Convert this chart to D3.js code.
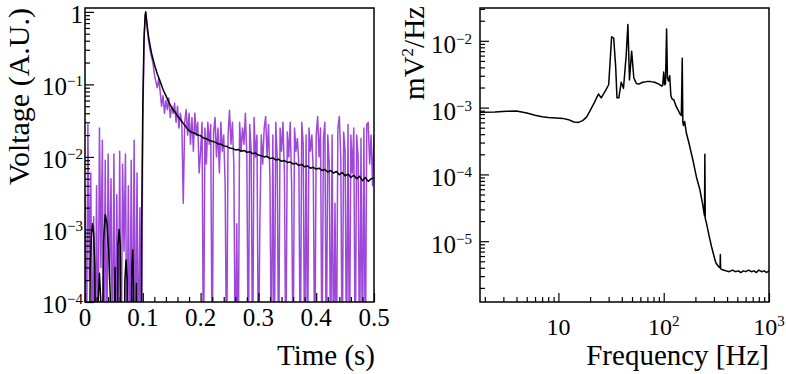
<!DOCTYPE html>
<html>
<head>
<meta charset="utf-8">
<script src="https://cdn.jsdelivr.net/npm/d3@7"></script>
<style>
  body { margin: 0; background: #fff; }
  svg text { font-family: "Liberation Serif", "DejaVu Serif", serif; fill: #000; }
</style>
</head>
<body>
<div id="chart"></div>
<script>

// ---- left panel: pulse (purple = single trace, black = average), sampled every 2.5 ms
var pulseStep = 0.0025;
var pulseTrace = [
    0.003, 1e-5, 0.028, 2e-4, 0.006, 1e-5, 0.0015, 1e-5, 0.004, 1e-5,
    0.025, 3e-4, 0.017, 1e-5, 0.009, 1e-5, 0.011, 2e-4, 0.005, 1e-5,
    0.011, 1e-5, 0.003, 1e-5, 0.012, 1e-5, 0.008, 5e-4, 0.011, 1e-5,
    0.004, 1e-5, 0.009, 1e-5, 0.017, 1e-5, 0.006, 1e-5, 0.002, 1e-5,
    0.03, 0.5, 0.98, 0.6, 0.4, 0.3, 0.24, 0.2, 0.14, 0.11,
    0.09, 0.12, 0.08, 0.05, 0.07, 0.04, 0.06, 0.045, 0.065, 0.035,
    0.05, 0.04, 0.055, 0.03, 0.05, 0.025, 0.04, 0.03, 0.0023, 0.03,
    0.045, 0.02, 0.04, 0.015, 0.035, 0.012, 0.04, 0.02, 0.03, 0.006,
    0.012, 0.03, 1e-5, 0.025, 0.008, 0.03, 0.015, 0.028, 1e-5, 0.022,
    0.035, 0.01, 0.025, 0.006, 0.03, 0.012, 0.02, 0.004, 1e-5, 0.02,
    0.044, 0.015, 0.03, 0.008, 1e-5, 0.0012, 1e-5, 0.03, 0.012, 0.025,
    0.015, 0.04, 0.01, 1e-5, 0.028, 0.012, 1e-5, 0.035, 0.01, 0.02,
    1e-5, 0.0012, 0.02, 0.008, 0.025, 0.036, 0.01, 0.028, 0.005, 1e-5,
    0.02, 1e-5, 0.03, 0.01, 1e-5, 0.025, 0.012, 0.03, 0.006, 1e-5,
    0.022, 0.01, 0.03, 0.004, 1e-5, 0.025, 0.012, 0.018, 0.008, 1e-5,
    0.03, 0.015, 1e-5, 0.02, 1e-5, 0.025, 0.012, 0.02, 0.006, 1e-5,
    0.02, 0.036, 0.01, 0.025, 1e-5, 0.018, 0.03, 1e-5, 0.02, 0.008,
    1e-5, 0.02, 1e-5, 0.0023, 1e-5, 0.025, 0.036, 0.01, 1e-5, 0.022,
    0.012, 1e-5, 0.028, 1e-5, 0.02, 0.006, 0.025, 1e-5, 0.02, 0.01,
    1e-5, 0.018, 1e-5, 0.025, 1e-5, 0.028, 0.03, 0.008, 0.02, 0.004,
    0.02
];

var avgTime = [
    0, 0.007, 0.009, 0.011, 0.013, 0.015, 0.017, 0.019, 0.021, 0.022,
    0.025, 0.028, 0.029, 0.03, 0.032, 0.035, 0.038, 0.041, 0.044, 0.046,
    0.049, 0.052, 0.054, 0.055, 0.057, 0.059, 0.061, 0.063, 0.067, 0.069,
    0.071, 0.073, 0.075, 0.079, 0.081, 0.0825, 0.084, 0.086, 0.087, 0.089,
    0.091, 0.0975, 0.098, 0.1, 0.102, 0.104, 0.105, 0.106, 0.108, 0.11,
    0.113, 0.116, 0.12, 0.125, 0.13, 0.135, 0.14, 0.145, 0.15, 0.16,
    0.17, 0.18, 0.185, 0.19, 0.195, 0.2, 0.205, 0.21, 0.215, 0.22,
    0.225, 0.23, 0.235, 0.24, 0.245, 0.25, 0.255, 0.26, 0.265, 0.27,
    0.275, 0.28, 0.285, 0.29, 0.295, 0.3, 0.305, 0.31, 0.315, 0.32,
    0.325, 0.33, 0.335, 0.34, 0.345, 0.35, 0.355, 0.36, 0.365, 0.37,
    0.375, 0.38, 0.385, 0.39, 0.395, 0.4, 0.405, 0.41, 0.415, 0.42,
    0.425, 0.43, 0.435, 0.44, 0.445, 0.45, 0.455, 0.46, 0.465, 0.47,
    0.475, 0.48, 0.485, 0.49, 0.495, 0.5
];
var avgVolt = [
    1e-6, 1e-6, 3e-4, 8e-4, 1.2e-3, 9e-4, 3e-4, 1e-6, 1e-6, 8e-5,
    2.5e-4, 8e-5, 1e-6, 1e-5, 7e-4, 1.6e-3, 1.2e-3, 5e-4, 1e-4, 1e-6,
    1e-6, 3e-4, 1e-6, 1e-6, 6e-4, 1e-3, 6e-4, 1e-6, 1e-6, 2e-4,
    3.8e-4, 2e-4, 1e-6, 1e-6, 3e-4, 5.2e-4, 2e-4, 1e-6, 1e-6, 1.8e-4,
    1e-6, 1e-6, 1e-3, 0.05, 0.4, 0.9, 1.0, 0.85, 0.6, 0.45,
    0.33, 0.25, 0.19, 0.14, 0.11, 0.085, 0.07, 0.057, 0.048, 0.037,
    0.029, 0.023, 0.0218, 0.0212, 0.02, 0.0196, 0.0182, 0.0178, 0.017, 0.0164,
    0.016, 0.0152, 0.015, 0.0142, 0.014, 0.0133, 0.0131, 0.0125, 0.0127, 0.012,
    0.0123, 0.0116, 0.0118, 0.0111, 0.0113, 0.0106, 0.0104, 0.01, 0.0102, 0.0095,
    0.0097, 0.0091, 0.0093, 0.0087, 0.0089, 0.0084, 0.0085, 0.008, 0.0082, 0.0076,
    0.0079, 0.0073, 0.0075, 0.007, 0.0072, 0.0068, 0.007, 0.0065, 0.0067, 0.0062,
    0.0065, 0.006, 0.0063, 0.0057, 0.0061, 0.0055, 0.0058, 0.0052, 0.0056, 0.005,
    0.0054, 0.0047, 0.0052, 0.0046, 0.005, 0.0051
];

// ---- right panel: noise power spectrum
var psdFreq = [
    1.8, 2.5, 3.2, 4.0, 5.0, 6.0, 7.0, 8.0, 9.5, 11,
    12.5, 14, 15.5, 17, 18.5, 20, 22, 24, 25.5, 28,
    30, 31, 32, 33.5, 35, 36, 37.5, 39.5, 41.5, 44,
    45.7, 47.3, 49.6, 52, 55, 58, 63, 69, 75, 82,
    90, 96, 98, 100, 102, 104, 106.5, 108.5, 111, 114,
    117, 120, 125, 131, 137, 143, 147, 150, 152, 154,
    158, 164, 175, 190, 205, 220, 235, 244, 246, 248,
    254, 270, 284, 300, 312, 330, 343, 345, 347, 366,
    390, 420, 450, 480, 510, 540, 570, 600, 640, 680,
    720, 760, 800, 850, 900, 950, 1000
];
var psdValue = [
    8.5e-4, 8.6e-4, 8.8e-4, 8.9e-4, 8.3e-4, 7.7e-4, 7.3e-4, 7.1e-4, 7.0e-4, 6.9e-4,
    6.6e-4, 6.1e-4, 6.0e-4, 6.4e-4, 7.2e-4, 9.0e-4, 1.2e-3, 1.6e-3, 1.4e-3, 1.8e-3,
    2.2e-3, 5e-3, 1.15e-2, 1.1e-2, 4e-3, 1.4e-3, 1.4e-3, 2.4e-3, 1.95e-3, 6e-3,
    1.75e-2, 2.6e-3, 7e-3, 2.8e-3, 2.3e-3, 2.25e-3, 2.4e-3, 2.45e-3, 2.45e-3, 2.4e-3,
    2.25e-3, 2.1e-3, 2.2e-3, 3.4e-3, 2.2e-3, 2.3e-3, 1.5e-2, 2.8e-3, 2.5e-3, 3.0e-3,
    1.5e-3, 1.35e-3, 1.3e-3, 1.05e-3, 9.2e-4, 8.0e-4, 7.6e-4, 5.5e-3, 6e-4, 5.4e-4,
    6.2e-4, 4.2e-4, 2.8e-4, 1.6e-4, 9e-5, 6e-5, 3.5e-5, 2.4e-5, 2.0e-4, 2.2e-5,
    1.9e-5, 1.2e-5, 8.4e-6, 6.0e-6, 4.8e-6, 4.2e-6, 4.0e-6, 6.3e-6, 3.9e-6, 3.7e-6,
    3.6e-6, 3.5e-6, 3.7e-6, 3.5e-6, 3.6e-6, 3.4e-6, 3.6e-6, 3.5e-6, 3.7e-6, 3.5e-6,
    3.6e-6, 3.4e-6, 3.7e-6, 3.5e-6, 3.6e-6, 3.4e-6, 3.6e-6
];

var timeTicks = [0, 0.1, 0.2, 0.3, 0.4, 0.5];
var timeLabels = ["0", "0.1", "0.2", "0.3", "0.4", "0.5"];
var voltTicks = [1e-4, 1e-3, 1e-2, 1e-1, 1];
var voltLabels = [["10", "\u22124"], ["10", "\u22123"], ["10", "\u22122"], ["10", "\u22121"], ["1", ""]];
var freqTicks = [10, 100, 1000];
var freqLabels = [["10", ""], ["10", "2"], ["10", "3"]];
var psdTicks = [1e-5, 1e-4, 1e-3, 1e-2];
var psdLabels = [["10", "\u22125"], ["10", "\u22124"], ["10", "\u22123"], ["10", "\u22122"]];

var purple = "#9e48da";

var svg = d3.select("#chart").append("svg")
    .attr("width", 786)
    .attr("height", 374);

// minor ticks of a log axis: 2..9 times every decade, kept inside the domain
function logMinors(domain) {
    var out = [];
    for (var e = -8; e <= 4; e++) {
        for (var m = 2; m <= 9; m++) {
            var v = m * Math.pow(10, e);
            if (v >= domain[0] && v <= domain[1]) out.push(v);
        }
    }
    return out;
}

// label with optional superscript
function supLabel(sel, base, sup) {
    sel.append("tspan").text(base);
    if (sup) {
        sel.append("tspan")
            .attr("dy", -9)
            .style("font-size", "15px")
            .text(sup);
    }
}

function panel(id, box, x, y) {
    var vis = {};
    vis.x = x;
    vis.y = y;
    vis.g = svg.append("g").attr("class", id);

    vis.g.append("defs").append("clipPath")
        .attr("id", "clip-" + id)
        .append("rect")
        .attr("x", box.left).attr("y", box.top)
        .attr("width", box.right - box.left)
        .attr("height", box.bottom - box.top);

    vis.plot = vis.g.append("g").attr("clip-path", "url(#clip-" + id + ")");
    return vis;
}

function frame(vis, box) {
    vis.g.append("rect")
        .attr("x", box.left).attr("y", box.top)
        .attr("width", box.right - box.left)
        .attr("height", box.bottom - box.top)
        .attr("fill", "none")
        .attr("stroke", "#000")
        .attr("stroke-width", 1.5);
}

function ticks(vis, box, xMajor, xMinor, yMajor, yMinor) {
    // inward ticks, ROOT style
    var gx = vis.g.append("g").attr("transform", "translate(0," + box.bottom + ")");
    gx.append("g").call(d3.axisBottom(vis.x).tickValues(xMinor).tickSize(-5).tickFormat(""));
    gx.append("g").call(d3.axisBottom(vis.x).tickValues(xMajor).tickSize(-9).tickFormat(""));
    var gy = vis.g.append("g").attr("transform", "translate(" + box.left + ",0)");
    gy.append("g").call(d3.axisLeft(vis.y).tickValues(yMinor).tickSize(-5).tickFormat(""));
    gy.append("g").call(d3.axisLeft(vis.y).tickValues(yMajor).tickSize(-9).tickFormat(""));
    vis.g.selectAll(".domain").remove();
    vis.g.selectAll(".tick line").attr("stroke", "#000").attr("stroke-width", 1.2);
}

// ---------------- left panel ----------------
var boxL = {left: 85, right: 374, top: 8, bottom: 302};
var left = panel("left",
    boxL,
    d3.scaleLinear().domain([0, 0.5]).range([boxL.left, boxL.right]),
    d3.scaleLog().domain([1e-4, 1.13]).range([boxL.bottom, boxL.top]));

var traceLine = d3.line()
    .x(function(d, i) { return left.x(i * pulseStep); })
    .y(function(d) { return left.y(d); });

left.plot.append("path")
    .datum(pulseTrace)
    .attr("fill", "none")
    .attr("stroke", purple)
    .attr("stroke-width", 1.5)
    .attr("stroke-linejoin", "round")
    .attr("d", traceLine);

var avgLine = d3.line()
    .x(function(d, i) { return left.x(avgTime[i]); })
    .y(function(d) { return left.y(d); });

left.plot.append("path")
    .datum(avgVolt)
    .attr("fill", "none")
    .attr("stroke", "#000")
    .attr("stroke-width", 1.5)
    .attr("stroke-linejoin", "round")
    .attr("d", avgLine);

var timeMinor = [];
for (var k = 0; k <= 25; k++) { if (k % 5) timeMinor.push(k * 0.02); }
ticks(left, boxL, timeTicks, timeMinor, voltTicks, logMinors(left.y.domain()));
frame(left, boxL);

left.g.selectAll(".xlab")
    .data(timeTicks)
    .enter().append("text")
    .attr("class", "xlab")
    .attr("x", function(d) { return left.x(d); })
    .attr("y", 326)
    .attr("text-anchor", "middle")
    .style("font-size", "25px")
    .text(function(d, i) { return timeLabels[i]; });

left.g.selectAll(".ylab")
    .data(voltTicks)
    .enter().append("text")
    .attr("class", "ylab")
    .attr("x", 83)
    .attr("y", function(d) { return left.y(d) + 11; })
    .attr("text-anchor", "end")
    .style("font-size", "25px")
    .each(function(d, i) { supLabel(d3.select(this), voltLabels[i][0], voltLabels[i][1]); });

left.g.append("text")
    .attr("x", 375).attr("y", 365)
    .attr("text-anchor", "end")
    .style("font-size", "29px")
    .text("Time (s)");

left.g.append("text")
    .attr("transform", "translate(29,8) rotate(-90)")
    .attr("text-anchor", "end")
    .style("font-size", "30px")
    .text("Voltage (A.U.)");

// ---------------- right panel ----------------
var boxR = {left: 480, right: 769, top: 8, bottom: 302};
var right = panel("right",
    boxR,
    d3.scaleLog().domain([1.8, 1000]).range([boxR.left, boxR.right]),
    d3.scaleLog().domain([1.23e-6, 0.031]).range([boxR.bottom, boxR.top]));

var psdLine = d3.line()
    .x(function(d, i) { return right.x(psdFreq[i]); })
    .y(function(d) { return right.y(d); });

right.plot.append("path")
    .datum(psdValue)
    .attr("fill", "none")
    .attr("stroke", "#000")
    .attr("stroke-width", 1.5)
    .attr("stroke-linejoin", "round")
    .attr("d", psdLine);

ticks(right, boxR, freqTicks, logMinors(right.x.domain()), psdTicks, logMinors(right.y.domain()));
frame(right, boxR);

right.g.selectAll(".xlab")
    .data(freqTicks)
    .enter().append("text")
    .attr("class", "xlab")
    .attr("x", function(d) { return right.x(d); })
    .attr("y", 335)
    .attr("text-anchor", "middle")
    .style("font-size", "24px")
    .each(function(d, i) { supLabel(d3.select(this), freqLabels[i][0], freqLabels[i][1]); });

right.g.selectAll(".ylab")
    .data(psdTicks)
    .enter().append("text")
    .attr("class", "ylab")
    .attr("x", 472)
    .attr("y", function(d) { return right.y(d) + 12; })
    .attr("text-anchor", "end")
    .style("font-size", "25px")
    .each(function(d, i) { supLabel(d3.select(this), psdLabels[i][0], psdLabels[i][1]); });

right.g.append("text")
    .attr("x", 769).attr("y", 365)
    .attr("text-anchor", "end")
    .style("font-size", "29px")
    .text("Frequency [Hz]");

var yt = right.g.append("text")
    .attr("transform", "translate(424,6) rotate(-90)")
    .attr("text-anchor", "end")
    .style("font-size", "29px");
yt.append("tspan").text("mV");
yt.append("tspan").attr("dy", -11).style("font-size", "17px").text("2");
yt.append("tspan").attr("dy", 11).text("/Hz");

</script>
</body>
</html>
